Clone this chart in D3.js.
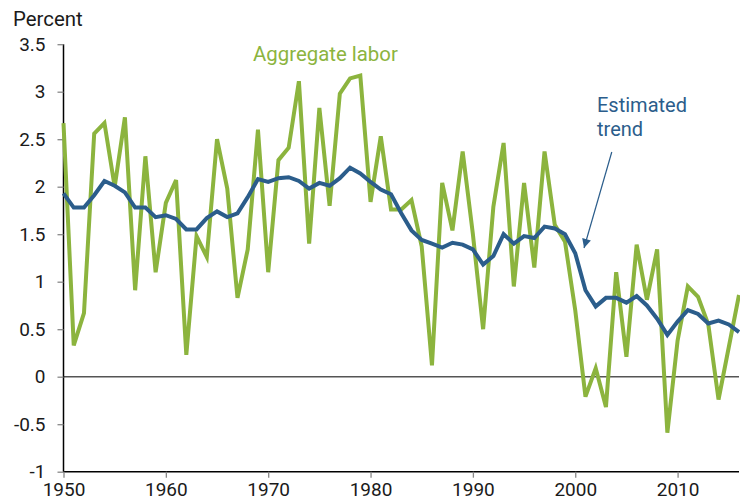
<!DOCTYPE html>
<html>
<head>
<meta charset="utf-8">
<script src="https://cdn.jsdelivr.net/npm/d3@7"></script>
<style>
  body { margin: 0; background: #fff; }
  text { font-family: Roboto, "Noto Sans", sans-serif; }
</style>
</head>
<body>
<div id="chart"></div>
<script>
// data
var years = d3.range(1950, 2017);

var aggregateLabor = [
  2.67, 0.33, 0.67, 2.56, 2.67, 2.00, 2.73, 0.91, 2.32, 1.10,
  1.83, 2.07, 0.23, 1.48, 1.26, 2.50, 1.98, 0.83, 1.34, 2.60,
  1.10, 2.28, 2.41, 3.11, 1.40, 2.83, 1.80, 2.98, 3.14, 3.17,
  1.84, 2.53, 1.76, 1.76, 1.86, 1.37, 0.12, 2.04, 1.54, 2.37,
  1.50, 0.50, 1.79, 2.46, 0.95, 2.04, 1.15, 2.37, 1.60, 1.42,
  0.70, -0.21, 0.09, -0.32, 1.10, 0.21, 1.39, 0.81, 1.34, -0.59,
  0.38, 0.95, 0.84, 0.55, -0.24, 0.31, 0.86
];

var estimatedTrend = [
  1.93, 1.78, 1.78, 1.91, 2.06, 2.01, 1.94, 1.78, 1.78, 1.68,
  1.70, 1.66, 1.55, 1.55, 1.67, 1.74, 1.68, 1.72, 1.89, 2.08,
  2.05, 2.09, 2.10, 2.06, 1.98, 2.04, 2.01, 2.09, 2.20, 2.14,
  2.05, 1.97, 1.92, 1.72, 1.54, 1.44, 1.40, 1.36, 1.41, 1.39,
  1.34, 1.18, 1.27, 1.50, 1.40, 1.48, 1.46, 1.58, 1.56, 1.50,
  1.30, 0.91, 0.74, 0.83, 0.83, 0.78, 0.85, 0.75, 0.61, 0.44,
  0.58, 0.70, 0.66, 0.56, 0.59, 0.55, 0.47
];

var yTicks = [-1, -0.5, 0, 0.5, 1, 1.5, 2, 2.5, 3, 3.5];
var xTicks = [1950, 1960, 1970, 1980, 1990, 2000, 2010];

var green = "#8cb43e",
    blue = "#2b5d8b";

// set the dimensions and margins of the graph
var margin = {top: 44.2, right: 1, bottom: 29.3, left: 63.5},
    width = 740 - margin.left - margin.right,
    height = 501 - margin.top - margin.bottom;

const svg = d3.select("#chart")
  .append("svg")
  .attr("width", 740)
  .attr("height", 501);

const g = svg.append("g")
  .attr("transform", `translate(${margin.left}, ${margin.top})`);

var x = d3.scaleLinear()
  .domain([1950, 2016])
  .range([0, width]);

var y = d3.scaleLinear()
  .domain([-1, 3.5])
  .range([height, 0]);

// zero line
g.append("line")
  .attr("x1", 0)
  .attr("x2", width)
  .attr("y1", y(0))
  .attr("y2", y(0))
  .attr("stroke", "#555")
  .attr("stroke-width", 1.4);

// axes
var yAxis = g.append("g")
  .call(d3.axisLeft(y).tickValues(yTicks).tickFormat(d => String(d)).tickSize(6).tickPadding(12));

var xAxis = g.append("g")
  .attr("transform", `translate(0, ${height})`)
  .call(d3.axisBottom(x).tickValues(xTicks).tickFormat(d => String(d)).tickSize(6).tickPadding(5));

[yAxis, xAxis].forEach(function(a) {
  a.select(".domain").attr("stroke", "#000").attr("stroke-width", 1.5);
  a.selectAll(".tick line").attr("stroke", "#888").attr("stroke-width", 1.3);
  a.selectAll(".tick text")
    .attr("fill", "#1a1a1a")
    .style("font-size", "19px")
    .style("font-family", "Roboto, sans-serif");
});
xAxis.select(".domain").attr("d", `M0,0H${width}`);
yAxis.select(".domain").attr("d", `M0,0V${height}`);

// lines
var series = years.map((yr, i) => ({year: yr, labor: aggregateLabor[i], trend: estimatedTrend[i]}));

g.append("path")
  .datum(series)
  .attr("fill", "none")
  .attr("stroke", green)
  .attr("stroke-width", 4)
  .attr("d", d3.line().x(d => x(d.year)).y(d => y(d.labor)));

g.append("path")
  .datum(series)
  .attr("fill", "none")
  .attr("stroke", blue)
  .attr("stroke-width", 4)
  .attr("d", d3.line().x(d => x(d.year)).y(d => y(d.trend)));

// labels
svg.append("text")
  .attr("x", 13)
  .attr("y", 26)
  .attr("fill", "#1a1a1a")
  .style("font-size", "20.4px")
  .text("Percent");

g.append("text")
  .attr("x", 253 - margin.left)
  .attr("y", 61 - margin.top)
  .attr("fill", green)
  .style("font-size", "20.4px")
  .text("Aggregate labor");

var trendLabel = g.append("text")
  .attr("fill", blue)
  .style("font-size", "20px");
trendLabel.append("tspan").attr("x", 597 - margin.left).attr("y", 111.7 - margin.top).text("Estimated");
trendLabel.append("tspan").attr("x", 597 - margin.left).attr("y", 136 - margin.top).text("trend");

// arrow
svg.append("defs").append("marker")
  .attr("id", "arrowhead")
  .attr("viewBox", "0 0 10 10")
  .attr("refX", 10)
  .attr("refY", 5)
  .attr("markerWidth", 10)
  .attr("markerHeight", 9)
  .attr("markerUnits", "userSpaceOnUse")
  .attr("orient", "auto")
  .append("path")
  .attr("d", "M0,0L10,5L0,10Z")
  .attr("fill", blue);

g.append("line")
  .attr("x1", x(2003.57))
  .attr("y1", y(2.365))
  .attr("x2", x(2000.86))
  .attr("y2", y(1.355))
  .attr("stroke", blue)
  .attr("stroke-width", 1.2)
  .attr("marker-end", "url(#arrowhead)");
</script>
</body>
</html>
